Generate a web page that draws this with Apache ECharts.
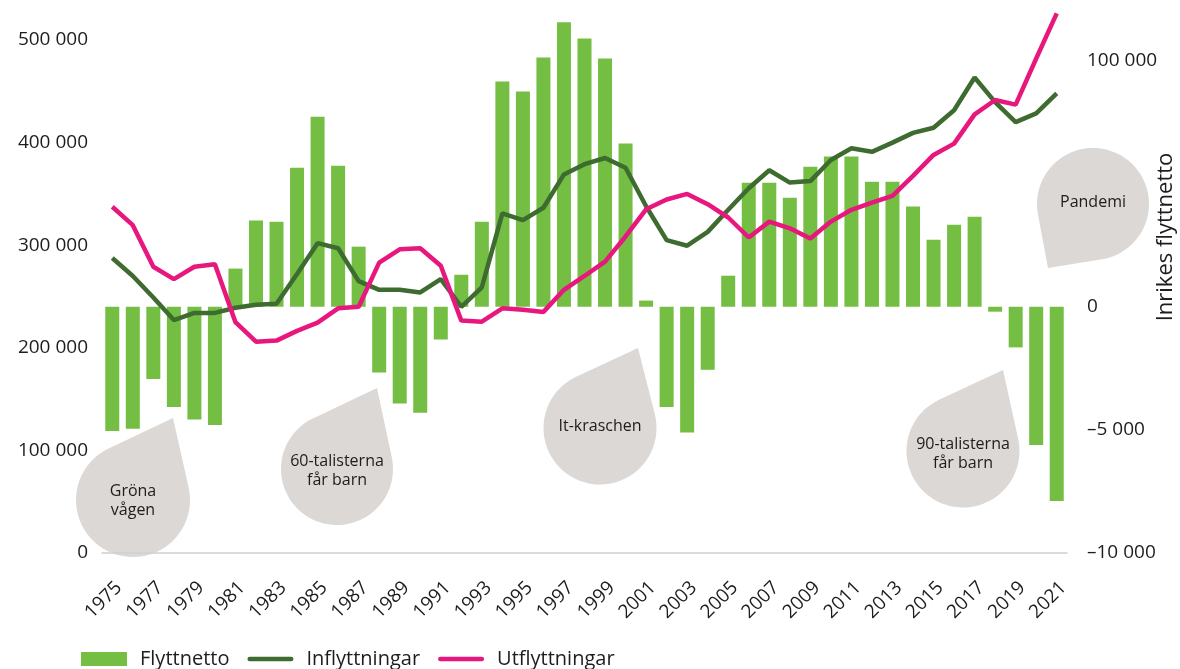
<!DOCTYPE html>
<html>
<head>
<meta charset="utf-8">
<script src="https://cdn.jsdelivr.net/npm/echarts@6/dist/echarts.min.js"></script>
<style>
  html, body { margin: 0; padding: 0; background: #fff; }
  #main { width: 1180px; height: 669px; }
</style>
</head>
<body>
<div id="main"></div>
<script>
// years 1975-2021
var years = [];
for (var y = 1975; y <= 2021; y++) years.push(String(y));

// Inrikes flyttnetto (right axis)
var flyttnetto = [
  -5050, -4950, -2930, -4070, -4580, -4800,
  1550, 3500, 3450, 5650, 7720, 5730, 2440,
  -2670, -3930, -4300, -1330,
  1300, 3450, 9150, 8740, 10120, 11550, 10890, 10080, 6630, 250,
  -4070, -5110, -2560,
  1260, 5040, 5040, 4430, 5690, 6100, 6100, 5080, 5080, 4070, 2720, 3330, 3660,
  -200, -1650, -5610, -7890
];

// Inflyttningar (left axis)
var inflyttningar = [
  287500, 270000, 249000, 227000, 234000, 234000, 239000, 242000, 243000, 272000,
  302000, 297000, 265000, 256500, 256500, 254000, 267000, 240000, 259000, 331000,
  324500, 336500, 369000, 379000, 385000, 375500, 338000, 305000, 299500, 313000,
  334500, 355500, 373000, 361000, 362500, 383000, 394500, 391000, 400000, 409500,
  414500, 431500, 463500, 439500, 420000, 428500, 448000
];

// Utflyttningar (left axis)
var utflyttningar = [
  337500, 319500, 279000, 267000, 279000, 281500, 225000, 206000, 207000, 216500,
  224500, 238500, 240000, 283000, 296000, 297000, 280000, 226500, 225500, 238500,
  237000, 235000, 256500, 270000, 284000, 308500, 335000, 344500, 350000, 340000,
  327000, 307500, 323000, 316500, 306500, 323000, 334500, 341500, 348000, 367500,
  388000, 399000, 427500, 441500, 437000, 482000, 526000
];

// right axis tick labels as printed
var rightLabels = { '-10000': '\u201310 000', '-5000': '\u20135 000', '0': '0', '10000': '100 000' };

var FONT = '"Open Sans", "Noto Sans", sans-serif';
var TXT = '#1d1d1b';

function fmt(v) {
  return String(v).replace(/\B(?=(\d{3})+(?!\d))/g, ' ');
}

// speech drop: circle plus a tail pointing to (tx, ty)
function drop(cx, cy, r, tx, ty) {
  var dx = tx - cx, dy = ty - cy;
  var d = Math.sqrt(dx * dx + dy * dy);
  var phi = Math.atan2(dy, dx);
  var a = Math.acos(r / d);
  var start = phi + a, end = phi - a + 2 * Math.PI;
  var pts = [[tx, ty]];
  for (var i = 0; i <= 60; i++) {
    var t = start + (end - start) * i / 60;
    pts.push([cx + r * Math.cos(t), cy + r * Math.sin(t)]);
  }
  return pts;
}

var bubbles = [
  { cx: 133, cy: 500, r: 57, tx: 173, ty: 418, text: 'Gröna\nvågen', ty2: 501 },
  { cx: 337, cy: 469, r: 56, tx: 377, ty: 388, text: '60-talisterna\nfår barn', ty2: 471 },
  { cx: 600, cy: 428, r: 56.5, tx: 638, ty: 348, text: 'It-kraschen', ty2: 426 },
  { cx: 963, cy: 451, r: 56.5, tx: 1003, ty: 370, text: '90-talisterna\nfår barn', ty2: 454 },
  { cx: 1093, cy: 204, r: 56, tx: 1048, ty: 268, text: 'Pandemi', ty2: 202 }
];

var graphics = [];
bubbles.forEach(function (b) {
  graphics.push({
    type: 'polygon', z: 0,
    shape: { points: drop(b.cx, b.cy, b.r, b.tx, b.ty) },
    style: { fill: '#dbd8d6' }
  });
  graphics.push({
    type: 'text', z: 1, x: b.cx, y: b.ty2,
    style: { text: b.text, fontSize: 16, fontFamily: FONT, fill: TXT, align: 'center', verticalAlign: 'middle', lineHeight: 19 }
  });
});
graphics.push({
  type: 'text', x: 1166, y: 237, rotation: Math.PI / 2,
  style: { text: 'Inrikes flyttnetto', fontSize: 22, fontFamily: FONT, fill: TXT, align: 'center', verticalAlign: 'middle' }
});

var lineIcon = 'path://M2.25,0 H43.75 A2.25,2.25 0 0 1 43.75,4.5 H2.25 A2.25,2.25 0 0 1 2.25,0 Z';

var chart = echarts.init(document.getElementById('main'));
var option = {
  animation: false,
  backgroundColor: '#fff',
  textStyle: { fontFamily: FONT },
  grid: { left: 102, right: 113, top: 40, bottom: 116 },
  legend: {
    left: 81, top: 649, padding: 0,
    itemWidth: 46, itemHeight: 14, itemGap: 18,
    textStyle: { fontSize: 20, color: TXT, fontFamily: FONT, padding: [0, 0, 0, 8] },
    data: [
      { name: 'Flyttnetto', icon: 'rect' },
      { name: 'Inflyttningar', icon: lineIcon },
      { name: 'Utflyttningar', icon: lineIcon }
    ]
  },
  graphic: graphics,
  xAxis: {
    type: 'category',
    data: years,
    boundaryGap: true,
    axisLine: { lineStyle: { color: '#cfcfcf', width: 1.5 } },
    axisTick: { show: false },
    axisLabel: {
      interval: 1, rotate: 45, margin: 25, verticalAlign: 'top',
      fontSize: 19, color: TXT, fontFamily: FONT
    }
  },
  yAxis: [
    {
      type: 'value', min: 0, max: 500000, interval: 100000,
      axisLine: { show: false }, axisTick: { show: false }, splitLine: { show: false },
      axisLabel: { margin: 14, fontSize: 19, color: TXT, fontFamily: FONT, formatter: fmt }
    },
    {
      type: 'value', min: -10000, max: 32500 / 3, interval: 5000,
      axisLine: { show: false }, axisTick: { show: false }, splitLine: { show: false },
      axisLabel: {
        margin: 20, fontSize: 19, color: TXT, fontFamily: FONT,
        formatter: function (v) { return rightLabels[String(v)] || ''; }
      }
    }
  ],
  series: [
    {
      name: 'Flyttnetto', type: 'bar', yAxisIndex: 1, data: flyttnetto,
      barWidth: 14, clip: false,
      itemStyle: { color: '#74be43' }
    },
    {
      name: 'Inflyttningar', type: 'line', yAxisIndex: 0, data: inflyttningar,
      showSymbol: false, clip: false,
      lineStyle: { color: '#3e6b30', width: 4.5 },
      itemStyle: { color: '#3e6b30' }
    },
    {
      name: 'Utflyttningar', type: 'line', yAxisIndex: 0, data: utflyttningar,
      showSymbol: false, clip: false,
      lineStyle: { color: '#e8177d', width: 4.5 },
      itemStyle: { color: '#e8177d' }
    }
  ]
};
chart.setOption(option);
</script>
</body>
</html>
